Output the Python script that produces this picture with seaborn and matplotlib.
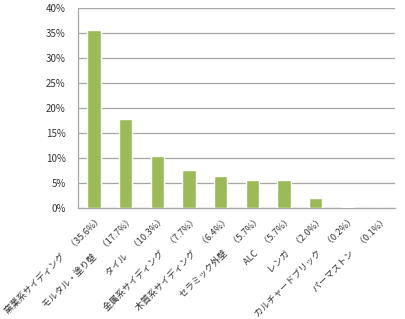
import matplotlib
matplotlib.use("Agg")
import matplotlib.pyplot as plt
import matplotlib.transforms as mtransforms
import seaborn as sns
import pandas as pd
from matplotlib.ticker import PercentFormatter

materials = ["窯業系サイディング", "モルタル・塗り壁", "タイル", "金属系サイディング",
             "木質系サイディング", "セラミック外壁", "ALC", "レンガ",
             "カルチャードブリック", "パーマストン"]
shares = [35.6, 17.7, 10.3, 7.7, 6.4, 5.7, 5.7, 2.0, 0.2, 0.1]
labels = [f"{m}　（{v:.1f}%）" for m, v in zip(materials, shares)]

df = pd.DataFrame({"label": labels, "share": shares})

sns.set_theme(style="white")
plt.rcParams["font.family"] = ["Noto Sans CJK JP", "DejaVu Sans"]

fig = plt.figure(figsize=(4.05, 3.19), dpi=100)
ax = fig.add_axes([78 / 405, 1 - 208 / 319, 317 / 405, 200 / 319])

sns.barplot(data=df, x="label", y="share", color="#9BBB59", saturation=1,
            width=0.42, ax=ax, zorder=3)

ax.set_ylim(0, 40)
ax.set_yticks(range(0, 41, 5))
ax.yaxis.set_major_formatter(PercentFormatter(decimals=0))
ax.grid(axis="y", color="#A6A6A6", linewidth=0.9, zorder=0)
ax.set_xlabel("")
ax.set_ylabel("")

for s in ["top", "right"]:
    ax.spines[s].set_visible(False)
for s in ["left", "bottom"]:
    ax.spines[s].set_color("#A6A6A6")
    ax.spines[s].set_linewidth(0.9)

ax.tick_params(axis="y", labelsize=7, colors="#333333", length=3, width=0.8,
               color="#A6A6A6", pad=6)
ax.tick_params(axis="x", labelsize=6.5, colors="#333333", length=0, pad=5)
shift = mtransforms.ScaledTranslation(4 / 100, 0, fig.dpi_scale_trans)
for t in ax.get_xticklabels():
    t.set_rotation(45)
    t.set_ha("right")
    t.set_rotation_mode("anchor")
    t.set_transform(t.get_transform() + shift)

fig.savefig("out.png", dpi=100, facecolor="white")
